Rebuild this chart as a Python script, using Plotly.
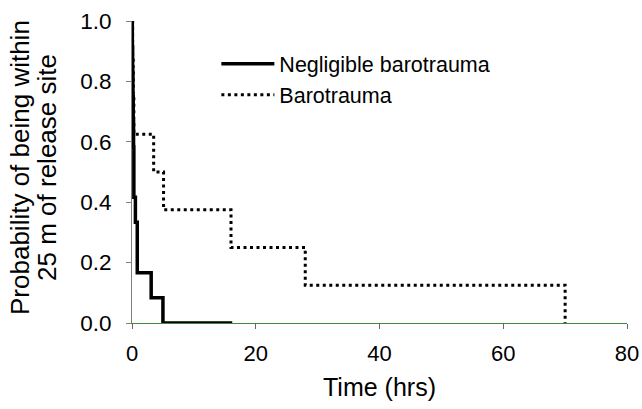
import plotly.graph_objects as go

# Kaplan-Meier style step data (time in hours, probability of remaining within 25 m)
negligible_time = [0, 0.05, 0.1, 0.15, 0.2, 0.25, 0.3, 0.55, 0.85, 3.1, 5.0, 16.2]
negligible_prob = [1.0, 0.9167, 0.8333, 0.75, 0.6667, 0.5833, 0.4167, 0.3333, 0.1667, 0.0833, 0.0, 0.0]

baro_time = [0, 0.1, 0.2, 0.3, 3.5, 5.1, 16.0, 28.0, 70.0]
baro_prob = [1.0, 0.875, 0.75, 0.625, 0.5, 0.375, 0.25, 0.125, 0.0]

x_ticks = [0, 20, 40, 60, 80]
y_ticks = [0.0, 0.2, 0.4, 0.6, 0.8, 1.0]

y_title_lines = ["Probability of being within", "25 m of release site"]
x_title = "Time (hrs)"

FONT = "Liberation Sans, Arial, sans-serif"

# plot-area geometry in pixels (for placing text in paper coordinates)
L, R, T, B = 131.5, 14.7, 20.7, 86.3
W, H = 642, 409
PW, PH = W - L - R, H - T - B


def px_to_paper_x(px):
    return (px - L) / PW


def px_to_paper_y(py):
    return 1 - (py - T) / PH


fig = go.Figure()
fig.add_trace(go.Scatter(
    x=negligible_time, y=negligible_prob, mode="lines",
    line=dict(shape="hv", color="black", width=3.5),
    name="Negligible barotrauma", cliponaxis=False,
))
fig.add_trace(go.Scatter(
    x=baro_time, y=baro_prob, mode="lines",
    line=dict(shape="hv", color="black", width=3, dash="3px,3.5px"),
    name="Barotrauma", cliponaxis=False,
))

annotations = []
for px, line in zip([20, 47], y_title_lines):
    annotations.append(dict(
        text=line, textangle=-90, showarrow=False,
        xref="paper", yref="paper",
        x=px_to_paper_x(px), y=px_to_paper_y(167),
        xanchor="center", yanchor="middle",
        font=dict(family=FONT, size=26, color="black"),
    ))

fig.update_layout(
    width=W, height=H,
    margin=dict(l=L, r=R, t=T, b=B, autoexpand=False),
    paper_bgcolor="white", plot_bgcolor="white",
    font=dict(family=FONT, color="black", size=22),
    showlegend=True,
    hovermode=False,
    legend=dict(
        x=px_to_paper_x(216), y=px_to_paper_y(43),
        xanchor="left", yanchor="top",
        bgcolor="rgba(0,0,0,0)", borderwidth=0,
        font=dict(family=FONT, size=21.5, color="black"),
        itemwidth=53,
    ),
    annotations=annotations,
    xaxis=dict(
        range=[0, 80], tickvals=x_ticks, ticktext=[str(v) for v in x_ticks],
        showline=True, linecolor="#3d8c3d", linewidth=1,
        ticks="outside", ticklen=5, tickcolor="#666666", tickwidth=1,
        showgrid=False, zeroline=False, layer="below traces",
        tickfont=dict(family=FONT, size=22), ticklabelstandoff=6,
        title=dict(text=x_title, font=dict(family=FONT, size=25), standoff=13),
        automargin=False,
    ),
    yaxis=dict(
        range=[0, 1.0], tickvals=y_ticks, ticktext=[f"{v:.1f}" for v in y_ticks],
        showline=True, linecolor="#808080", linewidth=1,
        ticks="outside", ticklen=5, tickcolor="#808080", tickwidth=1,
        showgrid=False, zeroline=False, layer="below traces",
        tickfont=dict(family=FONT, size=22.5), ticklabelstandoff=10,
        automargin=False,
    ),
)

fig.write_html(
    "out.html",
    config={"displayModeBar": False},
    post_script="document.body.style.margin='0px';",
)
